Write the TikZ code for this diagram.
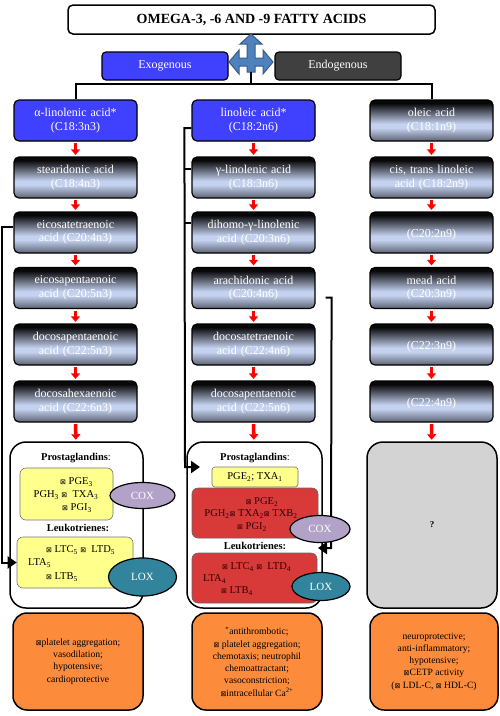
\documentclass[tikz,border=0pt]{standalone}
\usepackage{fontspec}
\setmainfont{Liberation Serif}
\newfontfamily\symfont{DejaVu Sans}
\usetikzlibrary{arrows.meta,shapes.geometric,calc}
\newcommand{\xbx}{{\symfont\fontsize{7}{7}\selectfont\char"22A0}}
\definecolor{exoblue}{RGB}{64,64,255}
\definecolor{endogray}{RGB}{64,64,64}
\definecolor{acidbot}{RGB}{92,98,114}
\definecolor{acidmid}{RGB}{196,210,240}
\definecolor{acidtop}{RGB}{8,8,10}
\definecolor{arrblue}{RGB}{79,129,189}
\definecolor{arrdark}{RGB}{56,93,138}
\definecolor{ylw}{RGB}{255,255,140}
\definecolor{rbox}{RGB}{216,58,58}
\definecolor{rtext}{RGB}{45,0,0}
\definecolor{coxc}{RGB}{178,162,200}
\definecolor{loxc}{RGB}{49,132,155}
\definecolor{orng}{RGB}{252,140,60}
\definecolor{qgray}{RGB}{211,211,211}
\pgfdeclareverticalshading{acidshade}{100bp}{color(0bp)=(acidbot); color(25bp)=(acidbot); color(41bp)=(acidmid); color(46bp)=(acidmid); color(71bp)=(acidtop); color(100bp)=(acidtop)}
\tikzset{
  acid/.style={draw=black, line width=1.2pt, rounded corners=5pt, shading=acidshade,
    minimum width=123pt, minimum height=41pt, text width=120pt, align=center, inner sep=0pt,
    font=\fontsize{12}{13.5}\selectfont, text=white},
  blueacid/.style={acid, fill=exoblue, shading=, top color=exoblue, bottom color=exoblue},
  redarr/.style={draw=red, line width=3.5pt, -{Triangle[width=9pt,length=5.5pt]}, shorten <=1.5pt, shorten >=1.5pt},
  conn/.style={draw=black, line width=2pt},
  blockarr/.style={conn, -{Triangle[width=12pt,length=9pt]}},
  bigbox/.style={draw=black, line width=1.5pt, rounded corners=16pt, fill=white},
  ybox/.style={draw=black!55, line width=0.6pt, rounded corners=6pt, fill=ylw},
  rbx/.style={draw=black!60, line width=0.6pt, rounded corners=6pt, fill=rbox},
  encz/.style={ellipse, draw=black, line width=1.2pt, text=white, font=\fontsize{11}{12}\selectfont, inner sep=0pt},
  lbl/.style={font=\fontsize{10.5}{12}\selectfont, inner sep=0pt},
  hdr/.style={font=\fontsize{10.5}{12}\selectfont\bfseries, inner sep=0pt},
  effect/.style={draw=black, line width=1.5pt, rounded corners=14pt, fill=orng, align=center,
    font=\fontsize{9.6}{12.3}\selectfont, minimum height=97pt, inner sep=0pt}
}
\begin{document}
\begin{tikzpicture}[x=1pt,y=-1pt]
\useasboundingbox (0,0) rectangle (500,716);

% title and sources
\node[draw=black, line width=1.5pt, rounded corners=5pt, minimum width=367pt, minimum height=29pt,
  font=\fontsize{14}{16}\selectfont\bfseries] (title) at (251.5,19.5) {OMEGA-3, -6 AND -9 FATTY ACIDS};
\node[draw=black, line width=1.2pt, rounded corners=4pt, fill=exoblue, text=white, minimum width=126pt,
  minimum height=28pt, font=\fontsize{12}{14}\selectfont] (exo) at (165,66) {Exogenous};
\node[draw=black, line width=1.2pt, rounded corners=4pt, fill=endogray, text=white, minimum width=126pt,
  minimum height=28pt, font=\fontsize{12}{14}\selectfont] (endo) at (338,66) {Endogenous};

% four-way arrow
\fill[arrblue, draw=arrdark, line width=1pt]
  (251,34) -- (262,44) -- (255,44) -- (255,58) -- (263,58) -- (263,50) -- (273,62) -- (263,74)
  -- (263,66) -- (255,66) -- (255,72) -- (247,72) -- (247,66) -- (239,66) -- (239,74) -- (229,62)
  -- (239,50) -- (239,58) -- (247,58) -- (247,44) -- (240,44) -- cycle;
\coordinate (stem) at (251,72);
\coordinate (hub) at (251,84);

% column 1 (omega-3)
\node[blueacid] (a1) at (75.5,120.5) {α-linolenic acid*\\(C18:3n3)};
\node[acid] (a2) at (75.5,177.5) {stearidonic acid\\(C18:4n3)};
\node[acid] (a3) at (75.5,232.5) {eicosatetraenoic\\acid (C20:4n3)};
\node[acid] (a4) at (75.5,288) {eicosapentaenoic\\acid (C20:5n3)};
\node[acid] (a5) at (75.5,344.5) {docosapentaenoic\\acid (C22:5n3)};
\node[acid] (a6) at (75.5,401.5) {docosahexaenoic\\acid (C22:6n3)};

% column 2 (omega-6)
\node[blueacid] (b1) at (253.5,120.5) {linoleic acid*\\(C18:2n6)};
\node[acid] (b2) at (253.5,177.5) {γ-linolenic acid\\(C18:3n6)};
\node[acid] (b3) at (253.5,232.5) {dihomo-γ-linolenic\\acid (C20:3n6)};
\node[acid] (b4) at (253.5,288) {arachidonic acid\\(C20:4n6)};
\node[acid] (b5) at (253.5,344.5) {docosatetraenoic\\acid (C22:4n6)};
\node[acid] (b6) at (253.5,401.5) {docosapentaenoic\\acid (C22:5n6)};

% column 3 (omega-9)
\node[acid] (c1) at (431.5,120.5) {oleic acid\\(C18:1n9)};
\node[acid] (c2) at (431.5,177.5) {cis, trans linoleic\\acid (C18:2n9)};
\node[acid] (c3) at (431.5,232.5) {~\\(C20:2n9)};
\node[acid] (c4) at (431.5,288) {mead acid\\(C20:3n9)};
\node[acid] (c5) at (431.5,344.5) {~\\(C22:3n9)};
\node[acid] (c6) at (431.5,401.5) {~\\(C22:4n9)};

% big boxes
\node[bigbox, minimum width=133pt, minimum height=166pt] (m1) at (76.5,525) {};
\node[bigbox, minimum width=135pt, minimum height=166pt] (m2) at (254.5,525) {};
\node[bigbox, fill=qgray, minimum width=130pt, minimum height=166pt, font=\fontsize{9}{10}\selectfont\bfseries] (m3) at (432,525) {?};

% column 1 contents
\node[hdr] (pgh1) at (76,458) {Prostaglandins\textmd{:}};
\node[ybox, minimum width=93pt, minimum height=52pt] (pg1) at (66.5,494) {};
\node[lbl, anchor=west] (pg1a) at (60,482) {\xbx\ PGE\textsubscript{3}};
\node[lbl] (pg1b) at (66,495) {PGH\textsubscript{3} \xbx\ \ TXA\textsubscript{3}};
\node[lbl, anchor=west] (pg1c) at (62,508) {\xbx\ PGI\textsubscript{3}};
\node[hdr] (lth1) at (78,528) {Leukotrienes:};
\node[ybox, minimum width=116pt, minimum height=51pt] (lt1) at (75,562.5) {};
\node[lbl, anchor=west] (lt1a) at (46,550) {\xbx\ LTC\textsubscript{5} \xbx\ \ LTD\textsubscript{5}};
\node[lbl, anchor=west] (lt1b) at (28,563) {LTA\textsubscript{5}};
\node[lbl, anchor=west] (lt1c) at (46,577) {\xbx\ LTB\textsubscript{5}};

% column 2 contents
\node[hdr] (pgh2) at (255,458) {Prostaglandins\textmd{:}};
\node[ybox, minimum width=86pt, minimum height=20pt, rounded corners=3pt] (pg2y) at (255,477) {};
\node[lbl] (pg2yt) at (255,477) {PGE\textsubscript{2}; TXA\textsubscript{1}};
\node[rbx, minimum width=126pt, minimum height=50pt] (pg2) at (255,513) {};
\node[lbl, text=rtext] (pg2a) at (262,502) {\xbx\ PGE\textsubscript{2}};
\node[lbl, text=rtext] (pg2b) at (251,514) {PGH\textsubscript{2}\xbx\ TXA\textsubscript{2}\xbx\ TXB\textsubscript{2}};
\node[lbl, text=rtext] (pg2c) at (252,527) {\xbx\ PGI\textsubscript{2}};
\node[hdr] (lth2) at (255,546) {Leukotrienes:};
\node[rbx, minimum width=125pt, minimum height=50pt] (lt2) at (254.5,578) {};
\node[lbl, text=rtext, anchor=west] (lt2a) at (222,567) {\xbx\ LTC\textsubscript{4} \xbx\ \ LTD\textsubscript{4}};
\node[lbl, text=rtext, anchor=west] (lt2b) at (203,579) {LTA\textsubscript{4}};
\node[lbl, text=rtext, anchor=west] (lt2c) at (221,591) {\xbx\ LTB\textsubscript{4}};

% effect boxes
\node[effect, minimum width=130pt] (e1) at (78,661.5) {\xbx platelet aggregation;\\vasodilation;\\hypotensive;\\cardioprotective};
\node[effect, minimum width=130pt] (e2) at (257,661.5) {\textsuperscript{*}antithrombotic;\\\xbx\ platelet aggregation;\\chemotaxis; neutrophil\\chemoattractant;\\vasoconstriction;\\\xbx intracellular Ca\textsuperscript{2+}};
\node[effect, minimum width=128pt] (e3) at (434,661.5) {neuroprotective;\\anti-inflammatory;\\hypotensive;\\\xbx CETP activity\\(\xbx\ LDL-C, \xbx\ HDL-C)};

% top connectors
\draw[conn] (stem) -- (hub);
\draw[conn] (a1.north) |- (hub) -| (c1.north);

% red arrows
\foreach \c in {a,b,c}{
  \draw[redarr] (\c1) -- (\c2);
  \draw[redarr] (\c2) -- (\c3);
  \draw[redarr] (\c3) -- (\c4);
  \draw[redarr] (\c4) -- (\c5);
  \draw[redarr] (\c5) -- (\c6);
}
\draw[redarr] (a6) -- (m1);
\draw[redarr] (b6) -- (m2);
\draw[redarr] (c6) -- (m3);

% brackets
\draw[blockarr] ([yshift=5.5pt]a3.west) -- ++(-11,0) |- (lt1.west);
\coordinate (b2t) at ([yshift=8.5pt]b2.west);
\coordinate (b3t) at ([yshift=9.5pt]b3.west);
\draw[blockarr] ([yshift=-7.5pt]b1.west) -- ++(-7,0) -- (185,462) -- (185,467) -- (200,467);
\draw[conn] (b2t) -- ++(-7,0);
\draw[conn] (b3t) -- ++(-7,0);
\draw[blockarr] ([xshift=10pt,yshift=-9.5pt]b4.east) -- ++(6,0) -- (331,548) -- (318,548);

% enzymes
\node[encz, fill=coxc, minimum width=65pt, minimum height=26pt] (cox1) at (142.5,495.5) {COX};
\node[encz, fill=loxc, minimum width=68pt, minimum height=38pt] (lox1) at (142.5,577) {LOX};
\node[encz, fill=coxc, minimum width=60pt, minimum height=27pt] (cox2) at (320,529) {COX};
\node[encz, fill=loxc, minimum width=58pt, minimum height=28pt] (lox2) at (321,586.5) {LOX};
\end{tikzpicture}
\end{document}
